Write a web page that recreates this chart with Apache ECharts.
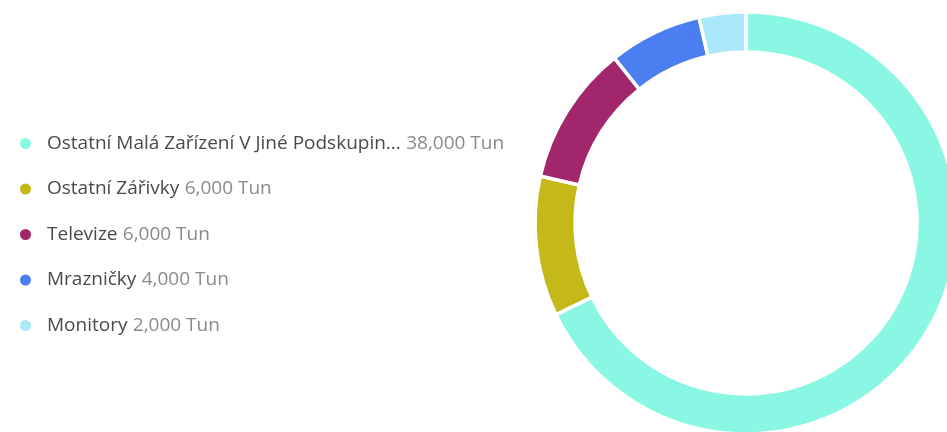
<!DOCTYPE html>
<html>
<head>
<meta charset="utf-8">
<script src="https://cdn.jsdelivr.net/npm/echarts@6/dist/echarts.min.js"></script>
<style>
html,body{margin:0;padding:0;background:#fff;}
#chart{width:947px;height:432px;}
</style>
</head>
<body>
<div id="chart"></div>
<script>
const categories = ["Ostatní Malá Zařízení V Jiné Podskupin...", "Ostatní Zářivky", "Televize", "Mrazničky", "Monitory"];
const values = [38000, 6000, 6000, 4000, 2000];
const unit = "Tun";
const colors = ["#8af7e4", "#c4b918", "#a2266b", "#4b7eee", "#a8e8f8"];

const chart = echarts.init(document.getElementById('chart'));
const fmt = v => v.toLocaleString('en-US');
const valueOf = {};
categories.forEach((c, i) => valueOf[c] = values[i]);

chart.setOption({
  animation: false,
  color: colors,
  legend: {
    orient: 'vertical',
    left: 13,
    top: 128.5,
    icon: 'circle',
    itemWidth: 13,
    itemHeight: 13,
    itemGap: 25.5,
    data: categories,
    formatter: name => '{n|' + name + '} {v|' + fmt(valueOf[name]) + ' ' + unit + '}',
    textStyle: {
      padding: [0, 0, 0, 10],
      lineHeight: 20,
      rich: {
        n: { fontFamily: 'Open Sans', fontSize: 19, color: '#4a4a4a', lineHeight: 20 },
        v: { fontFamily: 'Open Sans', fontSize: 19, color: '#8a8a8a', lineHeight: 20, padding: [0, 0, 0, 2] }
      }
    }
  },
  series: [{
    type: 'pie',
    center: [746, 223],
    radius: [171, 211],
    startAngle: 90,
    clockwise: true,
    label: { show: false },
    labelLine: { show: false },
    itemStyle: { borderColor: '#ffffff', borderWidth: 3.5 },
    data: categories.map((c, i) => ({ name: c, value: values[i] }))
  }]
});
</script>
</body>
</html>
